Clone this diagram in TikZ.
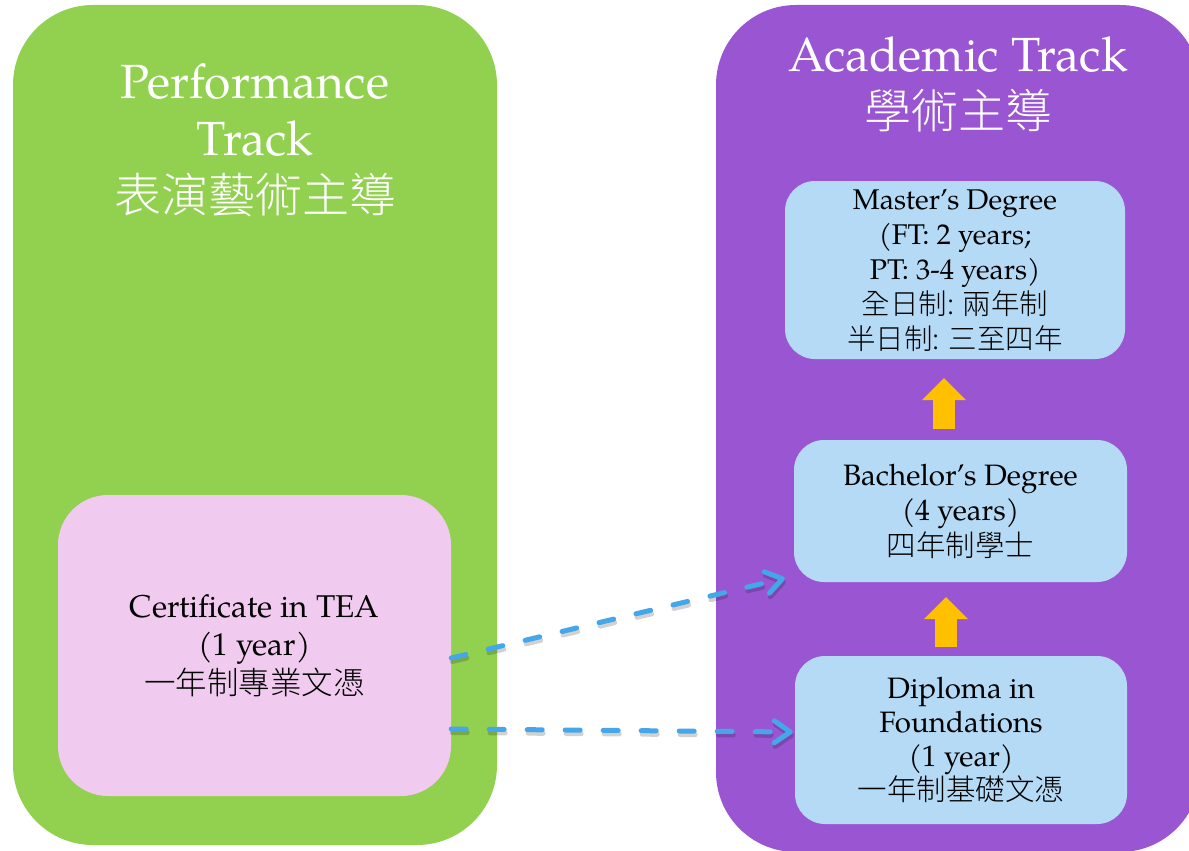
\documentclass[tikz,border=0pt]{standalone}
\usepackage{fontspec}
\setmainfont{TeX Gyre Pagella}
\IfFontExistsTF{Noto Sans CJK TC Light}
  {\newfontfamily\cjk{Noto Sans CJK TC Light}}
  {\IfFontExistsTF{Noto Sans CJK TC DemiLight}
    {\newfontfamily\cjk{Noto Sans CJK TC DemiLight}}
    {\newfontfamily\cjk{Noto Sans CJK TC}}}
\usetikzlibrary{arrows.meta,calc}
\definecolor{pgreen}{HTML}{92D050}
\definecolor{apurple}{HTML}{9A56D2}
\definecolor{lblue}{HTML}{B5DAF6}
\definecolor{lpink}{HTML}{F0CAEF}
\definecolor{oarrow}{HTML}{FFC000}
\definecolor{dblue}{HTML}{45A6E9}
\begin{document}
\begin{tikzpicture}[x=1pt,y=-1pt,
 track/.style={rectangle, rounded corners=80pt, minimum width=484pt, inner sep=0pt, draw=none},
 stage/.style={rectangle, rounded corners=30pt, fill=lblue, align=center, inner sep=0pt, text=black},
 tracktitle/.style={anchor=north, align=center, text=white, inner sep=0pt, font=\fontsize{48}{57}\selectfont},
 blockarrow/.style={draw=oarrow, line width=22pt, -{Triangle[length=22pt,width=44pt,line width=0pt]}},
 dashbase/.style={line width=5pt, line cap=round, dash pattern=on 15pt off 23pt},
 dasharrow/.style={dashbase, draw=dblue,
   -{Straight Barb[length=16pt,width=22pt,round]},
   preaction={draw=black, dashbase, opacity=0.18, transform canvas={xshift=1pt,yshift=-3.5pt}}}
]
\useasboundingbox (0,0) rectangle (1189,851);
\clip (0,0) rectangle (1189,851);
\fill[white] (0,0) rectangle (1189,851);

% track panels
\node[track, fill=pgreen, minimum height=840pt] (perf) at (255,425) {};
\node[track, fill=apurple, minimum height=847pt] (acad) at (958,428.5) {};

\node[tracktitle] (perfT) at (255,63) {Performance\\Track\\{\cjk\fontsize{47}{57}\selectfont 表演藝術主導}};
\node[tracktitle] (acadT) at (958,36) {Academic Track\\{\cjk\fontsize{47}{57}\selectfont 學術主導}};

% stages
\node[stage, rounded corners=50pt, fill=lpink, minimum width=393pt, minimum height=301pt,
  font=\fontsize{31.5}{38.5}\selectfont] (cert) at (254.5,645.5)
  {Certificate in TEA\\(1 year)\\{\cjk 一年制專業文憑}};

\node[stage, minimum width=340pt, minimum height=178pt, font=\fontsize{28.5}{35}\selectfont]
  (master) at (955,270)
  {Master’s Degree\\(FT: 2 years;\\PT: 3-4 years)\\{\cjk 全日制: 兩年制}\\{\cjk 半日制: 三至四年}};

\node[stage, minimum width=333pt, minimum height=142pt, font=\fontsize{29.5}{35.5}\selectfont]
  (bach) at (960.5,511)
  {Bachelor’s Degree\\(4 years)\\{\cjk 四年制學士}};

\node[stage, minimum width=332pt, minimum height=168pt, font=\fontsize{29.5}{34}\selectfont]
  (dipl) at (961,740)
  {Diploma in\\Foundations\\(1 year)\\{\cjk 一年制基礎文憑}};

% orange progression arrows
\coordinate (o1s) at ($(bach.north)+(-16.5,-11)$);
\coordinate (o1e) at ($(master.south)+(-11,19)$);
\draw[blockarrow] (o1s) -- (o1e);
\coordinate (o2s) at ($(dipl.north)+(-15,-9)$);
\coordinate (o2e) at ($(bach.south)+(-14.5,15)$);
\draw[blockarrow] (o2s) -- (o2e);

% dashed transfer arrows
\draw[dasharrow] ($(cert.east)+(0,12.5)$) -- ($(bach.south west)+(-9,-4)$);
\draw[dasharrow] ($(cert.east)+(0,83.5)$) -- ($(dipl.west)+(-2,-8)$);
\end{tikzpicture}
\end{document}
